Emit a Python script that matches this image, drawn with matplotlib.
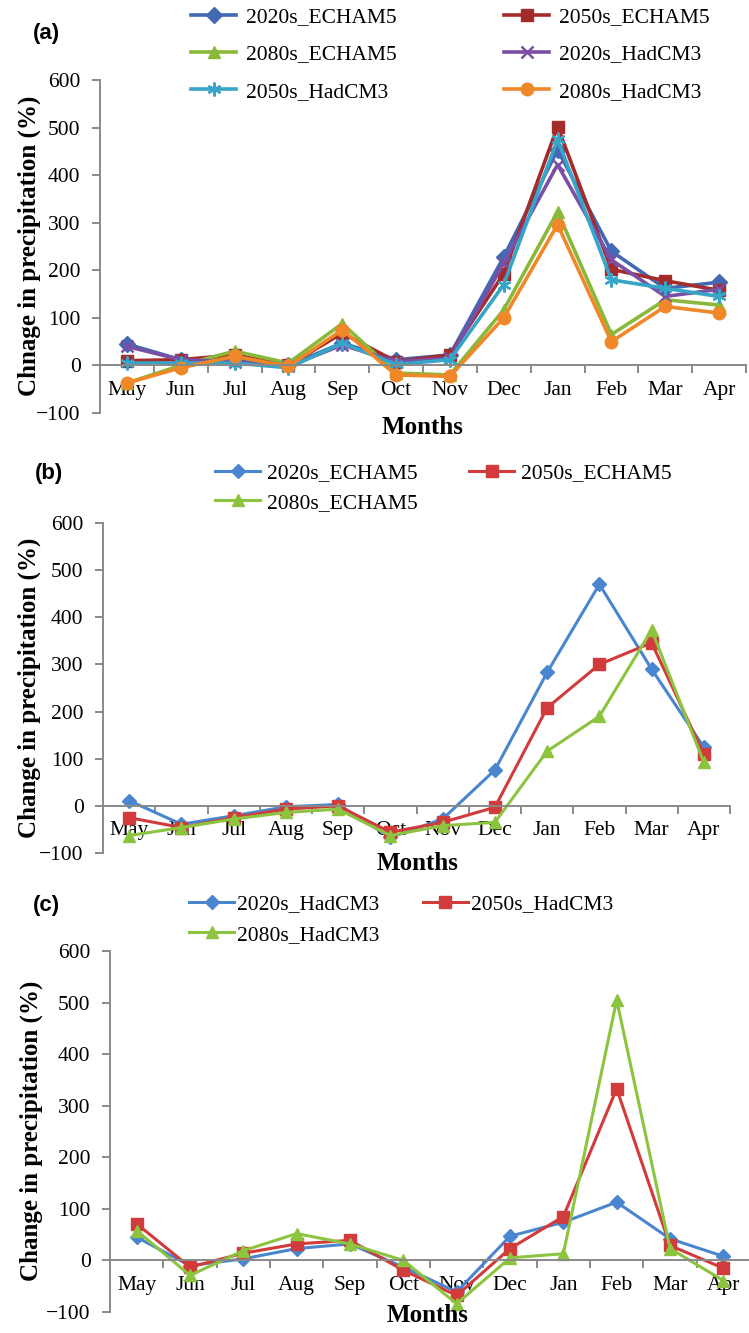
import matplotlib
matplotlib.use("Agg")
import matplotlib.pyplot as plt
from matplotlib.ticker import FixedLocator, MultipleLocator

plt.rcParams['font.family'] = ['Liberation Serif', 'DejaVu Serif']

months = ["May", "Jun", "Jul", "Aug", "Sep", "Oct", "Nov", "Dec", "Jan", "Feb", "Mar", "Apr"]

# Panel (a)
a_2020s_echam5 = [45, 12, 12, 0, 47, 12, 22, 228, 453, 240, 162, 175]
a_2050s_echam5 = [10, 12, 22, 0, 68, 8, 22, 193, 502, 202, 178, 158]
a_2080s_echam5 = [-37, 0, 30, 5, 88, -16, -20, 117, 323, 65, 138, 127]
a_2020s_hadcm3 = [40, 12, 8, -2, 43, 8, 15, 215, 422, 222, 145, 160]
a_2050s_hadcm3 = [5, 5, 5, -5, 47, 2, 12, 170, 475, 180, 162, 145]
a_2080s_hadcm3 = [-37, -5, 19, -2, 75, -20, -23, 100, 296, 50, 124, 110]

# Panel (b)
b_2020s_echam5 = [11, -39, -21, -2, 3, -67, -28, 76, 283, 470, 290, 124]
b_2050s_echam5 = [-25, -46, -25, -7, 0, -56, -35, -3, 208, 300, 346, 109]
b_2080s_echam5 = [-63, -46, -28, -14, -7, -63, -42, -35, 116, 190, 373, 92]

# Panel (c)
c_2020s_hadcm3 = [45, -10, 3, 23, 32, -13, -61, 47, 74, 113, 42, 8]
c_2050s_hadcm3 = [71, -13, 14, 32, 39, -19, -68, 23, 85, 333, 29, -15]
c_2080s_hadcm3 = [58, -29, 19, 52, 32, 0, -84, 5, 13, 505, 23, -39]

W, H = 749, 1333
fig = plt.figure(figsize=(W / 100, H / 100), dpi=100)

AX_GRAY = '#898989'
TICK_FS = 15.5
LEG_FS = 15.5
SERIF = ['Liberation Serif', 'DejaVu Serif']


def style_axes(ax):
    ax.set_xlim(-0.5, len(months) - 0.5)
    ax.set_ylim(-100, 600)
    ax.yaxis.set_major_locator(MultipleLocator(100))
    for s in ['top', 'right']:
        ax.spines[s].set_visible(False)
    ax.spines['bottom'].set_position(('data', 0))
    ax.spines['left'].set_color(AX_GRAY)
    ax.spines['bottom'].set_color(AX_GRAY)
    ax.spines['left'].set_linewidth(1.4)
    ax.spines['bottom'].set_linewidth(1.4)
    ax.set_xticks(range(len(months)))
    ax.set_xticklabels(months, family=SERIF)
    for lab in ax.get_yticklabels():
        lab.set_family(SERIF)
    ax.xaxis.set_minor_locator(FixedLocator([i - 0.5 for i in range(len(months) + 1)]))
    ax.tick_params(axis='x', which='major', length=0, pad=11, labelsize=TICK_FS)
    ax.tick_params(axis='x', which='minor', length=6, width=1.4, color=AX_GRAY, direction='out')
    ax.tick_params(axis='y', which='major', length=6, width=1.4, color=AX_GRAY,
                   direction='out', labelsize=TICK_FS, pad=8)
    ax.set_facecolor('none')


def fx(px):
    return px / W


def fy(py):
    return 1 - py / H


x = list(range(len(months)))

# ---------- Panel (a) ----------
axa = fig.add_axes([fx(100), fy(413), fx(646), (413 - 80) / H])
style_axes(axa)
cols_a = ['#4169B4', '#A52A2A', '#8AB83A', '#7B4FA3', '#36A5C8', '#F0882A']
lw_a = 2.6
ha = []
ha.append(axa.plot(x, a_2020s_echam5, color=cols_a[0], lw=lw_a, marker='D', ms=8, label='2020s_ECHAM5')[0])
ha.append(axa.plot(x, a_2050s_echam5, color=cols_a[1], lw=lw_a, marker='s', ms=9, label='2050s_ECHAM5')[0])
ha.append(axa.plot(x, a_2080s_echam5, color=cols_a[2], lw=lw_a, marker='^', ms=9, label='2080s_ECHAM5')[0])
ha.append(axa.plot(x, a_2020s_hadcm3, color=cols_a[3], lw=lw_a, marker='x', ms=9, mew=1.8, label='2020s_HadCM3')[0])
ha.append(axa.plot(x, a_2050s_hadcm3, color=cols_a[4], lw=lw_a, marker=(6, 2, 0), ms=10, mew=1.6, label='2050s_HadCM3')[0])
ha.append(axa.plot(x, a_2080s_hadcm3, color=cols_a[5], lw=lw_a, marker='o', ms=9, label='2080s_HadCM3')[0])
order = [0, 2, 4, 1, 3, 5]
fig.legend([ha[i] for i in order], [ha[i].get_label() for i in order],
           loc='upper left', bbox_to_anchor=(fx(191), fy(7)), ncol=2, frameon=False,
           prop={'family': SERIF, 'size': LEG_FS},
           handlelength=2.1, handletextpad=0.45, columnspacing=5.0,
           labelspacing=0.8, borderpad=0, borderaxespad=0)
fig.text(fx(29), fy(246), 'Chnage in precipitation (%)', rotation=90, fontsize=18,
         fontweight='bold', family=SERIF, ha='center', va='center')
fig.text(fx(423), fy(428), 'Months', fontsize=18, fontweight='bold', family=SERIF,
         ha='center', va='center')
fig.text(fx(33), fy(33), '(a)', fontsize=16, fontweight='bold', family='Liberation Sans',
         ha='left', va='center')

# ---------- Panel (b) ----------
cols_bc = ['#4A86CF', '#D13B3B', '#8DC43F']
lw_b = 2.2
axb = fig.add_axes([fx(103), fy(853), fx(627), (853 - 523) / H])
style_axes(axb)
hb = []
hb.append(axb.plot(x, b_2020s_echam5, color=cols_bc[0], lw=lw_b, marker='D', ms=7, label='2020s_ECHAM5')[0])
hb.append(axb.plot(x, b_2050s_echam5, color=cols_bc[1], lw=lw_b, marker='s', ms=9, label='2050s_ECHAM5')[0])
hb.append(axb.plot(x, b_2080s_echam5, color=cols_bc[2], lw=lw_b, marker='^', ms=9, label='2080s_ECHAM5')[0])
order_b = [0, 2, 1]
fig.legend([hb[i] for i in order_b], [hb[i].get_label() for i in order_b],
           loc='upper left', bbox_to_anchor=(fx(215), fy(463)), ncol=2, frameon=False,
           prop={'family': SERIF, 'size': LEG_FS},
           handlelength=2.1, handletextpad=0.3, columnspacing=2.4,
           labelspacing=0.45, borderpad=0, borderaxespad=0)
fig.text(fx(29), fy(688), 'Change in precipitation (%)', rotation=90, fontsize=18,
         fontweight='bold', family=SERIF, ha='center', va='center')
fig.text(fx(418), fy(863), 'Months', fontsize=18, fontweight='bold', family=SERIF,
         ha='center', va='center')
fig.text(fx(35), fy(473), '(b)', fontsize=16, fontweight='bold', family='Liberation Sans',
         ha='left', va='center')

# ---------- Panel (c) ----------
axc = fig.add_axes([fx(110), fy(1312), fx(640), (1312 - 951) / H])
style_axes(axc)
hc = []
hc.append(axc.plot(x, c_2020s_hadcm3, color=cols_bc[0], lw=lw_b, marker='D', ms=7, label='2020s_HadCM3')[0])
hc.append(axc.plot(x, c_2050s_hadcm3, color=cols_bc[1], lw=lw_b, marker='s', ms=9, label='2050s_HadCM3')[0])
hc.append(axc.plot(x, c_2080s_hadcm3, color=cols_bc[2], lw=lw_b, marker='^', ms=9, label='2080s_HadCM3')[0])
fig.legend([hc[i] for i in order_b], [hc[i].get_label() for i in order_b],
           loc='upper left', bbox_to_anchor=(fx(189), fy(894)), ncol=2, frameon=False,
           prop={'family': SERIF, 'size': LEG_FS},
           handlelength=2.1, handletextpad=0.15, columnspacing=2.0,
           labelspacing=0.5, borderpad=0, borderaxespad=0)
fig.text(fx(31), fy(1131), 'Change in precipitation (%)', rotation=90, fontsize=18,
         fontweight='bold', family=SERIF, ha='center', va='center')
fig.text(fx(428), fy(1316), 'Months', fontsize=18, fontweight='bold', family=SERIF,
         ha='center', va='center')
fig.text(fx(33), fy(905), '(c)', fontsize=16, fontweight='bold', family='Liberation Sans',
         ha='left', va='center')

fig.savefig('out.png', dpi=100, facecolor='white')
